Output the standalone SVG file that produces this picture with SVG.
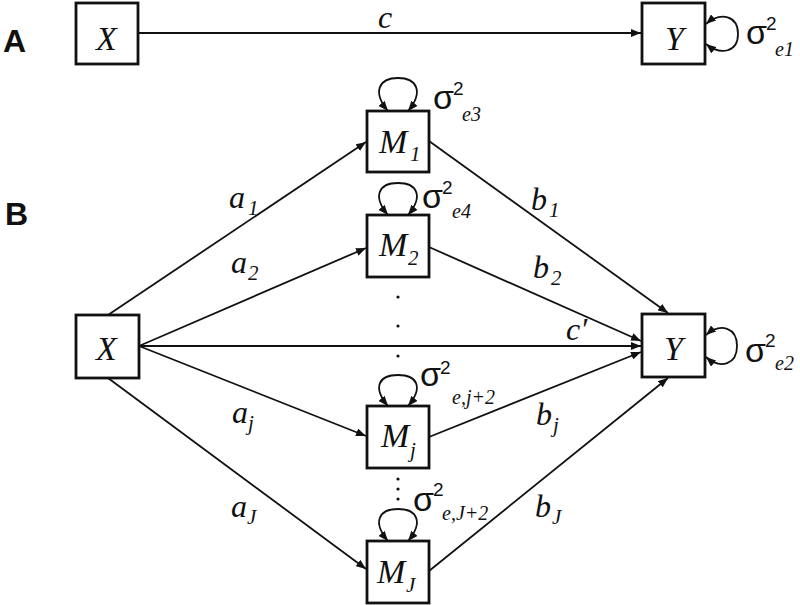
<svg xmlns="http://www.w3.org/2000/svg" width="800" height="605" viewBox="0 0 800 605">
<style>
.box{fill:#fff;stroke:#111;stroke-width:2.8}
.edge{fill:none;stroke:#111;stroke-width:1.8}
.lbl{font-family:"Liberation Serif","Times New Roman",serif;font-style:italic;font-size:32px;fill:#111}
.big{font-size:34px}
.sub{font-size:21px}
.sig{font-family:"Liberation Sans",Arial,sans-serif;font-size:34px;fill:#111}
.sup{font-family:"Liberation Sans",Arial,sans-serif;font-size:19px}
.esub{font-family:"Liberation Serif","Times New Roman",serif;font-style:italic;font-size:20px}
.panel{font-family:"Liberation Sans",Arial,sans-serif;font-weight:bold;font-size:32px;fill:#111}
.dot{fill:#111}
</style>
<defs>
<marker id="ah" viewBox="0 0 10 8" refX="10" refY="4" markerWidth="10" markerHeight="8" markerUnits="userSpaceOnUse" orient="auto-start-reverse">
<path d="M0,0 L10,4 L0,8 z" fill="#111"/>
</marker>
</defs>

<text class="panel" x="3" y="52">A</text>
<text class="panel" x="5" y="225">B</text>

<g id="connectors">
<line class="edge" x1="138" y1="33" x2="641" y2="33" marker-end="url(#ah)"/>
<line class="edge" x1="108" y1="315" x2="366" y2="142" marker-end="url(#ah)"/>
<line class="edge" x1="139" y1="346" x2="366" y2="248" marker-end="url(#ah)"/>
<line class="edge" x1="139" y1="346" x2="641" y2="346" marker-end="url(#ah)"/>
<line class="edge" x1="139" y1="346" x2="366" y2="436" marker-end="url(#ah)"/>
<line class="edge" x1="108" y1="378" x2="366" y2="569" marker-end="url(#ah)"/>
<line class="edge" x1="429" y1="141" x2="668" y2="313" marker-end="url(#ah)"/>
<line class="edge" x1="429" y1="247" x2="641" y2="341" marker-end="url(#ah)"/>
<line class="edge" x1="429" y1="437" x2="641" y2="352" marker-end="url(#ah)"/>
<line class="edge" x1="429" y1="571" x2="668" y2="378" marker-end="url(#ah)"/>
<!-- self loops -->
<path class="edge" d="M706,24 C721,11 738,16 738,34 C738,52 721,56 706,44" marker-start="url(#ah)" marker-end="url(#ah)"/>
<path class="edge" d="M706,335 C721,322 737,328 737,346 C737,364 721,370 706,357" marker-start="url(#ah)" marker-end="url(#ah)"/>
<path class="edge" d="M388,111 C372,92 379,78 398,78 C417,78 424,92 408,111" marker-start="url(#ah)" marker-end="url(#ah)"/>
<path class="edge" d="M388,215 C372,196 379,183 398,183 C417,183 424,196 408,215" marker-start="url(#ah)" marker-end="url(#ah)"/>
<path class="edge" d="M388,406 C372,387 379,375 398,375 C417,375 424,387 408,406" marker-start="url(#ah)" marker-end="url(#ah)"/>
<path class="edge" d="M388,541 C372,522 379,509 398,509 C417,509 424,522 408,541" marker-start="url(#ah)" marker-end="url(#ah)"/>
<!-- labels -->
<text class="lbl" x="378" y="28">c</text>
<text class="lbl" x="229" y="208">a<tspan class="sub" x="248" y="215">1</tspan></text>
<text class="lbl" x="231" y="273">a<tspan class="sub" x="248" y="280">2</tspan></text>
<text class="lbl" x="232" y="423">a<tspan class="sub" x="248" y="430">j</tspan></text>
<text class="lbl" x="231" y="517">a<tspan class="sub" x="247" y="524">J</tspan></text>
<text class="lbl" x="531" y="210">b<tspan class="sub" x="549" y="217">1</tspan></text>
<text class="lbl" x="533" y="278">b<tspan class="sub" x="551" y="285">2</tspan></text>
<text class="lbl" x="536" y="425">b<tspan class="sub" x="553" y="432">j</tspan></text>
<text class="lbl" x="535" y="517">b<tspan class="sub" x="552" y="524">J</tspan></text>
<text class="lbl" x="566" y="340">c′</text>
</g>

<g id="A_X"><rect class="box" x="76" y="3" width="62" height="61"/><text class="lbl big" x="96" y="50">X</text></g>
<g id="A_Y"><rect class="box" x="642" y="3" width="63" height="61"/><text class="lbl big" x="665" y="50">Y</text>
<text class="sig" x="746" y="44">σ<tspan class="sup" x="766" y="30">2</tspan><tspan class="esub" x="775" y="56">e1</tspan></text></g>

<g id="B_X"><rect class="box" x="76" y="315" width="63" height="63"/><text class="lbl big" x="96" y="360">X</text></g>
<g id="B_Y"><rect class="box" x="642" y="314" width="63" height="63"/><text class="lbl big" x="664" y="360">Y</text>
<text class="sig" x="745" y="362">σ<tspan class="sup" x="765" y="347">2</tspan><tspan class="esub" x="775" y="370">e2</tspan></text></g>

<g id="M1"><rect class="box" x="367" y="111" width="62" height="61"/><text class="lbl big" x="379" y="153">M<tspan class="sub" x="410" y="161">1</tspan></text>
<text class="sig" x="433" y="109">σ<tspan class="sup" x="453" y="95">2</tspan><tspan class="esub" x="462" y="121">e3</tspan></text></g>

<g id="M2"><rect class="box" x="367" y="215" width="62" height="62"/><text class="lbl big" x="379" y="256">M<tspan class="sub" x="408" y="265">2</tspan></text>
<text class="sig" x="422" y="208">σ<tspan class="sup" x="442" y="194">2</tspan><tspan class="esub" x="452" y="218">e4</tspan></text></g>

<g id="Mj"><rect class="box" x="367" y="406" width="62" height="62"/><text class="lbl big" x="381" y="447">M<tspan class="sub" x="410" y="457">j</tspan></text>
<text class="sig" x="420" y="386">σ<tspan class="sup" x="440" y="374">2</tspan><tspan class="esub" x="452" y="404">e,j+2</tspan></text></g>

<g id="MJ"><rect class="box" x="367" y="541" width="62" height="62"/><text class="lbl big" x="377" y="583">M<tspan class="sub" x="406" y="592">J</tspan></text>
<text class="sig" x="413" y="511">σ<tspan class="sup" x="433" y="496">2</tspan><tspan class="esub" x="442" y="520">e,J+2</tspan></text></g>

<g id="ellipses">
<circle class="dot" cx="398" cy="297" r="1.6"/>
<circle class="dot" cx="398" cy="326" r="1.6"/>
<circle class="dot" cx="398" cy="356" r="1.6"/>
<circle class="dot" cx="398" cy="479" r="1.6"/>
<circle class="dot" cx="398" cy="489" r="1.6"/>
<circle class="dot" cx="398" cy="499" r="1.6"/>
</g>
</svg>
